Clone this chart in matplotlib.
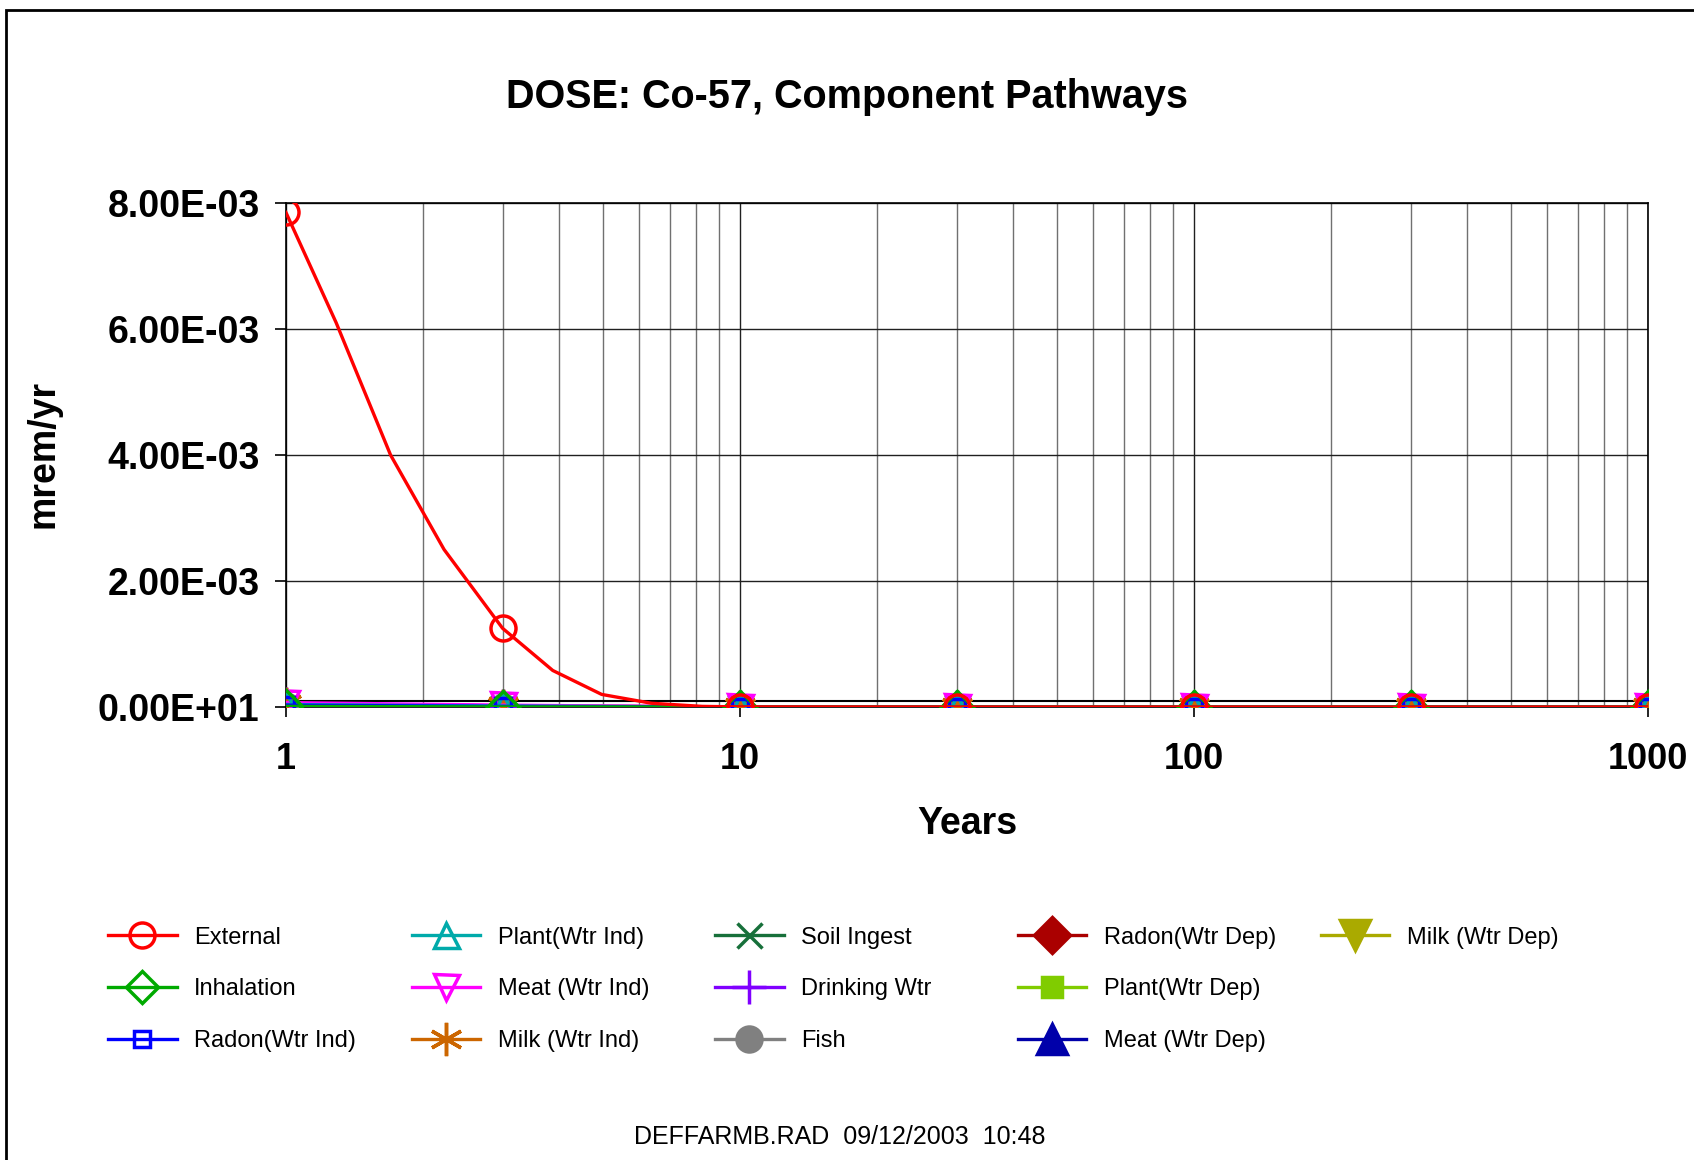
import matplotlib
matplotlib.use("Agg")
import matplotlib.pyplot as plt
from matplotlib.patches import Rectangle
from matplotlib.lines import Line2D
from matplotlib.ticker import LogLocator, NullFormatter

plt.rcParams['font.family'] = ['Liberation Sans', 'DejaVu Sans']

# dati
years_ext = [1, 1.29, 1.7, 2.23, 3, 3.87, 4.96, 6.38, 8.26, 10, 30, 100, 300, 1000]
external = [7.85e-3, 6.1e-3, 4.0e-3, 2.5e-3, 1.25e-3, 5.8e-4, 2.0e-4, 6e-5, 1e-5, 2e-6, 0, 0, 0, 0]
ext_marks = [0, 4, 9, 10, 11, 12, 13]

years = [1, 3, 10, 30, 100, 300, 1000]
inhalation = [1e-5, 2e-6, 0, 0, 0, 0, 0]
radon_ind = [3e-5, 1e-5, 0, 0, 0, 0, 0]
plant_ind = [4e-5, 1.5e-5, 0, 0, 0, 0, 0]
meat_ind = [7e-5, 3e-5, 0, 0, 0, 0, 0]
milk_ind = [5e-5, 2e-5, 0, 0, 0, 0, 0]
soil_ingest = [2e-5, 5e-6, 0, 0, 0, 0, 0]
drinking = [5e-5, 2e-5, 0, 0, 0, 0, 0]
fish = [1e-5, 3e-6, 0, 0, 0, 0, 0]
# percorsi dipendenti dall'acqua: nessun punto nel grafico
radon_dep = []
plant_dep = []
meat_dep = []
milk_dep = []

baseline = 1.0e-4

ytick_vals = [0, 2e-3, 4e-3, 6e-3, 8e-3]
ytick_labels = ["0.00E+01", "2.00E-03", "4.00E-03", "6.00E-03", "8.00E-03"]
xtick_vals = [1, 10, 100, 1000]
xtick_labels = ["1", "10", "100", "1000"]

# (label, dati, colore, marker, pieno, dimensione)
series = [
    ("External", external, "#FF0000", "o", False, 18),
    ("Inhalation", inhalation, "#00AA00", "D", False, 16),
    ("Radon(Wtr Ind)", radon_ind, "#0000FF", "s", False, 12),
    ("Plant(Wtr Ind)", plant_ind, "#00AAAA", "^", False, 18),
    ("Meat (Wtr Ind)", meat_ind, "#FF00FF", "v", False, 18),
    ("Milk (Wtr Ind)", milk_ind, "#CC6600", (6, 2, 0), False, 24),
    ("Soil Ingest", soil_ingest, "#17703A", "x", False, 18),
    ("Drinking Wtr", drinking, "#8000FF", "+", False, 24),
    ("Fish", fish, "#808080", "o", True, 18),
    ("Radon(Wtr Dep)", radon_dep, "#AA0000", "D", True, 18),
    ("Plant(Wtr Dep)", plant_dep, "#80CC00", "s", True, 14),
    ("Meat (Wtr Dep)", meat_dep, "#0000AA", "^", True, 22),
    ("Milk (Wtr Dep)", milk_dep, "#AAAA00", "v", True, 22),
]

fig = plt.figure(figsize=(16.94, 11.6), dpi=100)
ax = fig.add_axes([0.1688, 0.3905, 0.804, 0.4345])

handles = []
for i, (name, vals, col, mk, filled, ms) in enumerate(series):
    kw = dict(color=col, lw=2.4, marker=mk, markersize=ms, markeredgewidth=2.5,
              markeredgecolor=col, markerfacecolor=col if filled else "none")
    if i == 0:
        ax.plot(years_ext, vals, markevery=ext_marks, zorder=30, **kw)
    elif vals:
        ax.plot(years[:len(vals)], vals, zorder=20 - i, **kw)
    handles.append(Line2D([], [], label=name, **kw))

ax.axhline(baseline, color="black", lw=1.5, zorder=3)

ax.set_xscale("log")
ax.set_xlim(1, 1000)
ax.set_ylim(0, 8e-3)

ax.xaxis.set_minor_locator(LogLocator(base=10, subs=range(2, 10)))
ax.xaxis.set_minor_formatter(NullFormatter())
ax.set_xticks(xtick_vals)
ax.set_xticklabels(xtick_labels, fontsize=26, fontweight="bold")
ax.set_yticks(ytick_vals)
ax.set_yticklabels(ytick_labels, fontsize=27, fontweight="bold")
ax.tick_params(axis="x", which="major", length=7, width=1.2, pad=18)
ax.tick_params(axis="x", which="minor", length=0)
ax.tick_params(axis="y", which="major", length=8, width=1.2, pad=11)

ax.grid(axis="x", which="major", color="#202020", lw=1)
ax.grid(axis="x", which="minor", color="#707070", lw=1)
ax.grid(axis="y", which="major", color="#202020", lw=1)
for s in ax.spines.values():
    s.set_color("black")
    s.set_linewidth(1.2)

fig.text(0.5, 0.9165, "DOSE: Co-57, Component Pathways", ha="center", va="center",
         fontsize=28.5, fontweight="bold")
fig.text(0.571, 0.29, "Years", ha="center", va="center", fontsize=27, fontweight="bold")
fig.text(0.0254, 0.609, "mrem/yr", ha="center", va="center", rotation=90,
         fontsize=27, fontweight="bold")
fig.text(0.496, 0.0198, "DEFFARMB.RAD  09/12/2003  10:48", ha="center", va="center",
         fontsize=18)

# legenda: colonne a passo fisso
col_x = [0.0638, 0.2432, 0.4221, 0.6009, 0.7798]
for c, x0 in enumerate(col_x):
    fig.legend(handles=handles[3 * c:3 * c + 3], loc="upper left",
               bbox_to_anchor=(x0, 0.2012), frameon=False, borderpad=0,
               borderaxespad=0, fontsize=17, handlelength=2.9,
               handletextpad=0.75, labelspacing=1.26)

# cornice esterna
fig.patches.append(Rectangle((0.0035, -0.1), 1.2, 1.0914, transform=fig.transFigure,
                             fill=False, edgecolor="black", lw=2))

fig.savefig("out.png", dpi=100)
